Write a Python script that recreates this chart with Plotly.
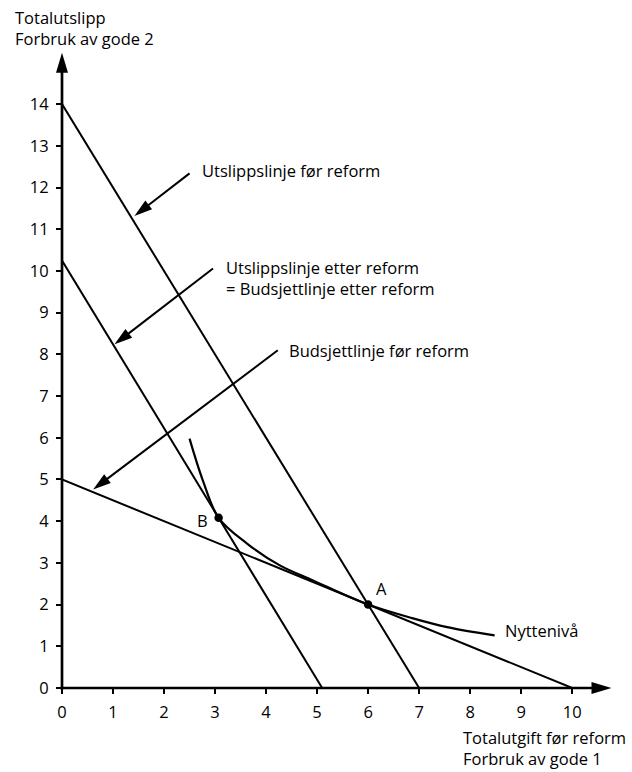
import math
import plotly.graph_objects as go

# ---------------- data ----------------
x_tick_vals = list(range(0, 11))
y_tick_vals = list(range(0, 15))

utslipp_for_x = [0, 7]          # Utslippslinje før reform
utslipp_for_y = [14, 0]
utslipp_etter_x = [0, 5.1]      # Utslippslinje etter reform = Budsjettlinje etter reform
utslipp_etter_y = [10.25, 0]
budsjett_for_x = [0, 10]        # Budsjettlinje før reform
budsjett_for_y = [5, 0]

nytte_x = [2.50, 2.76, 3.07, 3.62, 4.27, 4.92, 6.00, 6.88, 7.55, 8.48]   # Nyttenivå
nytte_y = [5.98, 4.98, 4.08, 3.47, 2.94, 2.58, 2.00, 1.67, 1.46, 1.26]

punkt_navn = ["A", "B"]
punkt_x = [6.0, 3.07]
punkt_y = [2.0, 4.08]

# ---------------- layout constants ----------------
FIG_W, FIG_H = 632, 772
M_L, M_R, M_T, M_B = 62, 19, 52, 84
X_MAX, Y_MAX = 10.8, 15.25
PLOT_W = FIG_W - M_L - M_R
PLOT_H = FIG_H - M_T - M_B
PX_X = PLOT_W / X_MAX
PX_Y = PLOT_H / Y_MAX
FONT = "Open Sans"
FS = 16.5


def fx(x):
    return x / X_MAX


def fy(y):
    return y / Y_MAX


def arrow(tail, tip, head_len, head_w, width):
    sx, sy = tail
    tx, ty = tip
    dx = (tx - sx) * PX_X
    dy = (ty - sy) * PX_Y
    n = math.hypot(dx, dy)
    ux, uy = dx / n, dy / n
    bx, by = -head_len * ux, -head_len * uy
    nx, ny = -uy * head_w / 2, ux * head_w / 2
    path = "M0,0 L{:.2f},{:.2f} L{:.2f},{:.2f} Z".format(bx + nx, by + ny, bx - nx, by - ny)
    line = dict(type="line", xref="paper", yref="paper",
                x0=fx(sx), y0=fy(sy),
                x1=fx(tx + 0.7 * bx / PX_X), y1=fy(ty + 0.7 * by / PX_Y),
                line=dict(color="black", width=width))
    head = dict(type="path", xref="paper", yref="paper",
                xsizemode="pixel", ysizemode="pixel",
                xanchor=fx(tx), yanchor=fy(ty), path=path,
                fillcolor="black", line=dict(color="black", width=0))
    return [line, head]


fig = go.Figure()

for xs, ys in [(utslipp_for_x, utslipp_for_y),
               (utslipp_etter_x, utslipp_etter_y),
               (budsjett_for_x, budsjett_for_y)]:
    fig.add_trace(go.Scatter(x=xs, y=ys, mode="lines",
                             line=dict(color="black", width=2),
                             hoverinfo="skip", showlegend=False))

fig.add_trace(go.Scatter(x=nytte_x, y=nytte_y, mode="lines",
                         line=dict(color="black", width=2.2, shape="spline", smoothing=1.0),
                         hoverinfo="skip", showlegend=False))

fig.add_trace(go.Scatter(x=punkt_x, y=punkt_y, mode="markers",
                         marker=dict(color="black", size=8.5),
                         hoverinfo="skip", showlegend=False))

shapes = []
# axes with arrowheads
shapes += arrow((-1.4 / PX_X, 0), (10.77, 0), 20, 12, 2.7)
shapes += arrow((0, -1.4 / PX_Y), (0, 15.23), 20, 12, 2.7)
# pointer arrows
shapes += arrow((2.50, 12.34), (1.42, 11.32), 18, 11, 2)
shapes += arrow((2.96, 10.06), (1.03, 8.24), 18, 11, 2)
shapes += arrow((4.23, 8.10), (0.61, 4.76), 18, 11, 2)

annotations = []


def txt(text, x, y, xanchor="left"):
    annotations.append(dict(text=text, x=fx(x), y=fy(y), xref="paper", yref="paper",
                            xanchor=xanchor, yanchor="middle", align="left",
                            showarrow=False,
                            font=dict(family=FONT, size=FS, color="black")))


txt("Utslippslinje før reform", 2.71, 12.40)
txt("Utslippslinje etter reform<br>= Budsjettlinje etter reform", 3.17, 9.84)
txt("Budsjettlinje før reform", 4.41, 8.09)
txt("Nyttenivå", 8.65, 1.38)
txt(punkt_navn[0], 6.26, 2.38, xanchor="center")
txt(punkt_navn[1], 2.76, 4.01, xanchor="center")
txt("Totalutslipp<br>Forbruk av gode 2", -0.96, 15.82)
txt("Totalutgift før reform<br>Forbruk av gode 1", 7.83, -1.45)

axis_common = dict(showgrid=False, zeroline=False, showline=False,
                   ticks="outside", ticklen=5, tickwidth=1.6, tickcolor="black",
                   tickfont=dict(family=FONT, size=FS, color="black"),
                   ticklabelstandoff=4, fixedrange=True)

fig.update_layout(
    width=FIG_W, height=FIG_H,
    margin=dict(l=M_L, r=M_R, t=M_T, b=M_B, pad=0),
    paper_bgcolor="white", plot_bgcolor="white",
    xaxis=dict(range=[0, X_MAX], tickvals=x_tick_vals, **axis_common),
    yaxis=dict(range=[0, Y_MAX], tickvals=y_tick_vals, **axis_common),
    shapes=shapes, annotations=annotations,
    font=dict(family=FONT, size=FS, color="black"),
    showlegend=False,
)

fig.write_html("out.html", config={"displayModeBar": False},
               post_script="document.body.style.margin='0';document.body.style.overflow='hidden';")
